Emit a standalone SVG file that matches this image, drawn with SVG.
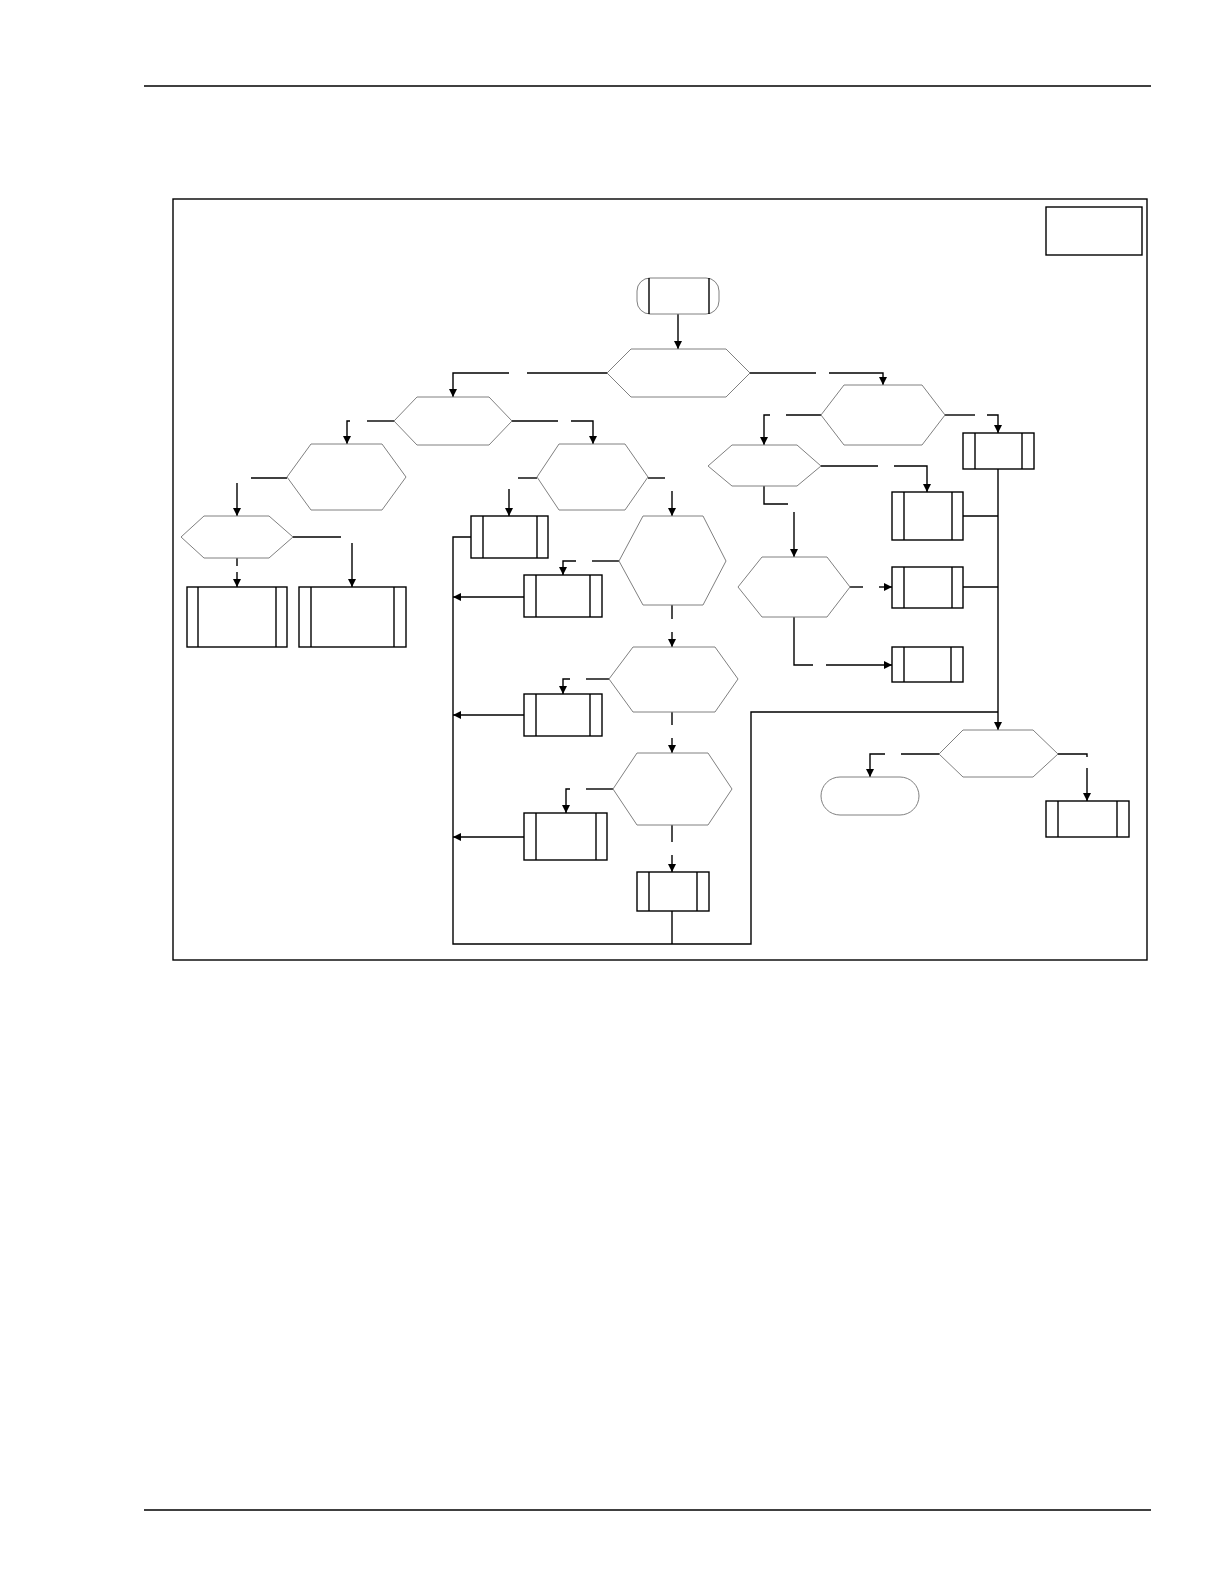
<svg xmlns="http://www.w3.org/2000/svg" width="1224" height="1584" viewBox="0 0 1224 1584">
<defs>
<marker id="ah" viewBox="0 0 10 10" refX="10" refY="5" markerWidth="9" markerHeight="8" markerUnits="userSpaceOnUse" orient="auto">
<path d="M0,0 L10,5 L0,10 z" fill="#000"/>
</marker>
<style>
.hex{fill:#fff;stroke:#808080;stroke-width:1}
.term{fill:#fff;stroke:#808080;stroke-width:1}
.box{fill:#fff;stroke:#000;stroke-width:1.4}
.in{stroke:#000;stroke-width:1.4}
.c{fill:none;stroke:#000;stroke-width:1.4}
.a{fill:none;stroke:#000;stroke-width:1.4;marker-end:url(#ah)}
.rule{stroke:#000;stroke-width:1.4}
</style>
</defs>
<rect x="0" y="0" width="1224" height="1584" fill="#fff"/>
<line class="rule" x1="144" y1="86" x2="1151" y2="86"/>
<line class="rule" x1="144" y1="1510" x2="1151" y2="1510"/>
<rect x="173" y="199" width="974" height="761" fill="none" stroke="#000" stroke-width="1.4"/>
<rect id="legend" x="1046" y="207" width="96" height="48" fill="none" stroke="#000" stroke-width="1.4"/>

<g id="connectors">
<path class="a" d="M678,314 L678,349"/>
<path class="c" d="M607,373 L527,373"/>
<path class="a" d="M509,373 L453,373 L453,397"/>
<path class="c" d="M394,421 L367,421"/>
<path class="a" d="M350,421 L347,421 L347,444"/>
<path class="c" d="M512,421 L558,421"/>
<path class="a" d="M571,421 L593,421 L593,444"/>
<path class="c" d="M287,478 L251,478"/>
<path class="a" d="M237,483 L237,516"/>
<path class="c" d="M293,537 L341,537"/>
<path class="a" d="M352,543 L352,587"/>
<path class="c" d="M237,558 L237,566"/>
<path class="a" d="M237,572 L237,587"/>
<path class="c" d="M537,478 L518,478"/>
<path class="a" d="M509,489 L509,516"/>
<path class="c" d="M648,478 L665,478"/>
<path class="a" d="M672,491 L672,516"/>
<path class="c" d="M471,537 L453,537 L453,944 L751,944 L751,712 L998,712"/>
<path class="a" d="M998,469 L998,730"/>
<path class="c" d="M619,561 L592,561"/>
<path class="a" d="M576,561 L563,561 L563,575"/>
<path class="a" d="M524,597 L453,597"/>
<path class="c" d="M672,605 L672,619"/>
<path class="a" d="M672,632 L672,647"/>
<path class="c" d="M609,679 L586,679"/>
<path class="a" d="M570,679 L563,679 L563,694"/>
<path class="a" d="M524,715 L453,715"/>
<path class="c" d="M672,712 L672,725"/>
<path class="a" d="M672,738 L672,753"/>
<path class="c" d="M613,789 L586,789"/>
<path class="a" d="M570,789 L566,789 L566,813"/>
<path class="a" d="M524,837 L453,837"/>
<path class="c" d="M672,825 L672,842"/>
<path class="a" d="M672,855 L672,872"/>
<path class="c" d="M672,911 L672,944"/>
<path class="c" d="M750,373 L816,373"/>
<path class="a" d="M829,373 L883,373 L883,385"/>
<path class="c" d="M821,415 L786,415"/>
<path class="a" d="M770,415 L764,415 L764,445"/>
<path class="c" d="M945,415 L975,415"/>
<path class="a" d="M987,415 L998,415 L998,433"/>
<path class="c" d="M821,466 L878,466"/>
<path class="a" d="M894,466 L927,466 L927,492"/>
<path class="c" d="M963,516 L998,516"/>
<path class="c" d="M764,486 L764,504 L788,504"/>
<path class="a" d="M794,512 L794,557"/>
<path class="c" d="M850,587 L863,587"/>
<path class="a" d="M879,587 L892,587"/>
<path class="c" d="M963,587 L998,587"/>
<path class="c" d="M794,617 L794,665 L813,665"/>
<path class="a" d="M826,665 L892,665"/>
<path class="c" d="M939,754 L901,754"/>
<path class="a" d="M885,754 L870,754 L870,777"/>
<path class="c" d="M1058,754 L1087,754 L1087,757"/>
<path class="a" d="M1087,768 L1087,801"/>
</g>

<g id="start">
<rect class="term" x="637" y="278" width="82" height="36" rx="13"/>
<line class="in" x1="649" y1="278" x2="649" y2="314"/>
<line class="in" x1="709" y1="278" x2="709" y2="314"/>
</g>
<g id="end">
<rect class="term" x="821" y="777" width="98" height="38" rx="19"/>
</g>

<g id="h1"><polygon class="hex" points="607,373 631,349 726,349 750,373 726,397 631,397"/></g>
<g id="h2"><polygon class="hex" points="394,421 417,397 489,397 512,421 489,445 417,445"/></g>
<g id="h3"><polygon class="hex" points="287,477 311,444 382,444 406,477 382,510 311,510"/></g>
<g id="h4"><polygon class="hex" points="181,537 204,516 269,516 293,537 269,558 204,558"/></g>
<g id="h5"><polygon class="hex" points="537,477 559,444 625,444 648,477 625,510 559,510"/></g>
<g id="h6"><polygon class="hex" points="619,561 643,516 703,516 726,561 703,605 643,605"/></g>
<g id="h7"><polygon class="hex" points="609,679 633,647 715,647 738,679 715,712 633,712"/></g>
<g id="h8"><polygon class="hex" points="613,789 637,753 708,753 732,789 708,825 637,825"/></g>
<g id="h9"><polygon class="hex" points="821,415 844,385 922,385 945,415 922,445 844,445"/></g>
<g id="h10"><polygon class="hex" points="708,466 732,445 797,445 821,466 797,486 732,486"/></g>
<g id="h11"><polygon class="hex" points="738,587 762,557 827,557 850,587 827,617 762,617"/></g>
<g id="h12"><polygon class="hex" points="939,754 963,730 1033,730 1058,754 1033,777 963,777"/></g>

<g id="bA"><rect class="box" x="187" y="587" width="100" height="60"/><line class="in" x1="198" y1="587" x2="198" y2="647"/><line class="in" x1="276" y1="587" x2="276" y2="647"/></g>
<g id="bB"><rect class="box" x="299" y="587" width="107" height="60"/><line class="in" x1="311" y1="587" x2="311" y2="647"/><line class="in" x1="394" y1="587" x2="394" y2="647"/></g>
<g id="bC"><rect class="box" x="471" y="516" width="77" height="42"/><line class="in" x1="483" y1="516" x2="483" y2="558"/><line class="in" x1="537" y1="516" x2="537" y2="558"/></g>
<g id="bD"><rect class="box" x="524" y="575" width="78" height="42"/><line class="in" x1="536" y1="575" x2="536" y2="617"/><line class="in" x1="590" y1="575" x2="590" y2="617"/></g>
<g id="bE"><rect class="box" x="524" y="694" width="78" height="42"/><line class="in" x1="536" y1="694" x2="536" y2="736"/><line class="in" x1="590" y1="694" x2="590" y2="736"/></g>
<g id="bF"><rect class="box" x="524" y="813" width="83" height="47"/><line class="in" x1="536" y1="813" x2="536" y2="860"/><line class="in" x1="596" y1="813" x2="596" y2="860"/></g>
<g id="bG"><rect class="box" x="637" y="872" width="72" height="39"/><line class="in" x1="649" y1="872" x2="649" y2="911"/><line class="in" x1="697" y1="872" x2="697" y2="911"/></g>
<g id="bH"><rect class="box" x="963" y="433" width="71" height="36"/><line class="in" x1="975" y1="433" x2="975" y2="469"/><line class="in" x1="1022" y1="433" x2="1022" y2="469"/></g>
<g id="bI"><rect class="box" x="892" y="492" width="71" height="48"/><line class="in" x1="904" y1="492" x2="904" y2="540"/><line class="in" x1="952" y1="492" x2="952" y2="540"/></g>
<g id="bJ"><rect class="box" x="892" y="567" width="71" height="41"/><line class="in" x1="904" y1="567" x2="904" y2="608"/><line class="in" x1="952" y1="567" x2="952" y2="608"/></g>
<g id="bK"><rect class="box" x="892" y="647" width="71" height="35"/><line class="in" x1="904" y1="647" x2="904" y2="682"/><line class="in" x1="951" y1="647" x2="951" y2="682"/></g>
<g id="bL"><rect class="box" x="1046" y="801" width="83" height="36"/><line class="in" x1="1058" y1="801" x2="1058" y2="837"/><line class="in" x1="1117" y1="801" x2="1117" y2="837"/></g>
</svg>
